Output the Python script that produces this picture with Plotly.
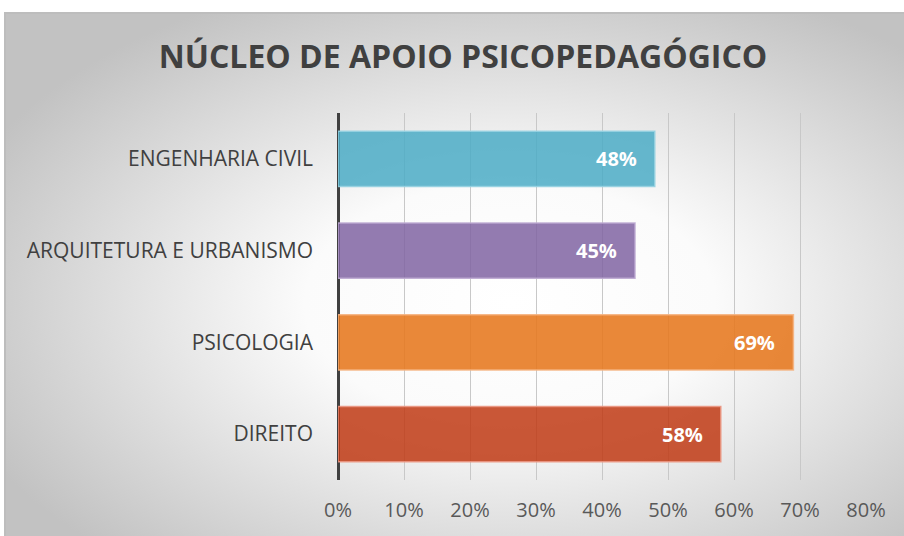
import base64
import plotly.graph_objects as go

# dados do gráfico
cursos = ["ENGENHARIA CIVIL", "ARQUITETURA E URBANISMO", "PSICOLOGIA", "DIREITO"]
valores = [0.48, 0.45, 0.69, 0.58]
rotulos = ["48%", "45%", "69%", "58%"]
cores = ["rgba(75,172,198,0.85)", "rgba(128,100,162,0.85)",
         "rgba(230,120,30,0.88)", "rgba(192,57,20,0.85)"]
bordas = ["rgba(150,210,225,0.9)", "rgba(190,170,210,0.9)",
          "rgba(245,180,130,0.9)", "rgba(235,150,130,0.9)"]
ticks_x = [0, 0.1, 0.2, 0.3, 0.4, 0.5, 0.6, 0.7, 0.8]

W, H = 904, 536
L, R, T, B = 338, 38, 113, 56
pw, ph = W - L - R, H - T - B

# fundo com gradiente radial (svg)
svg = """<svg xmlns='http://www.w3.org/2000/svg' width='902' height='526'>
<defs><radialGradient id='g' cx='0.56' cy='0.55' r='0.65'>
<stop offset='0' stop-color='#ffffff'/><stop offset='0.35' stop-color='#fbfbfb'/>
<stop offset='1' stop-color='#c2c2c2'/></radialGradient></defs>
<rect x='1' y='1' width='902' height='526' fill='url(#g)' stroke='#bdbdbd' stroke-width='2'/>
</svg>"""
src = "data:image/svg+xml;base64," + base64.b64encode(svg.encode()).decode()

fig = go.Figure()
fig.add_trace(go.Bar(
    y=cursos, x=valores, orientation="h",
    marker=dict(color=cores, line=dict(color=bordas, width=1.5)),
    width=0.6, hoverinfo="skip",
))

for c, v, t in zip(cursos, valores, rotulos):
    fig.add_annotation(x=v, y=c, text=t, showarrow=False, xanchor="right", xshift=-16,
                       font=dict(family="Open Sans", size=20, color="white", weight="bold"))

fig.add_layout_image(dict(
    source=src, xref="paper", yref="paper",
    x=(4 - L) / pw, y=(H - B - 12) / ph, sizex=902 / pw, sizey=526 / ph,
    xanchor="left", yanchor="top", sizing="stretch", layer="below",
))

fig.update_layout(
    width=W, height=H,
    margin=dict(l=L, r=R, t=T, b=B),
    paper_bgcolor="white", plot_bgcolor="rgba(0,0,0,0)",
    showlegend=False,
    title=dict(text="NÚCLEO DE APOIO PSICOPEDAGÓGICO", x=463 / W, xref="container", xanchor="center",
               y=1 - 57 / H, yanchor="middle",
               font=dict(family="Open Sans", size=32, color="#404040", weight="bold")),
    xaxis=dict(range=[0, 0.8], tickvals=ticks_x, tickformat=".0%",
               showgrid=True, gridcolor="#c8c8c8", gridwidth=1,
               zeroline=True, zerolinecolor="#404040", zerolinewidth=3,
               ticks="", ticklabelstandoff=16,
               tickfont=dict(family="Open Sans", size=20, color="#595959")),
    yaxis=dict(autorange="reversed", showgrid=False, ticks="", ticklabelstandoff=24,
               tickfont=dict(family="Open Sans", size=21, color="#404040")),
)

fig.write_html("out.html", config={"displayModeBar": False},
               post_script="document.body.style.margin='0';")
